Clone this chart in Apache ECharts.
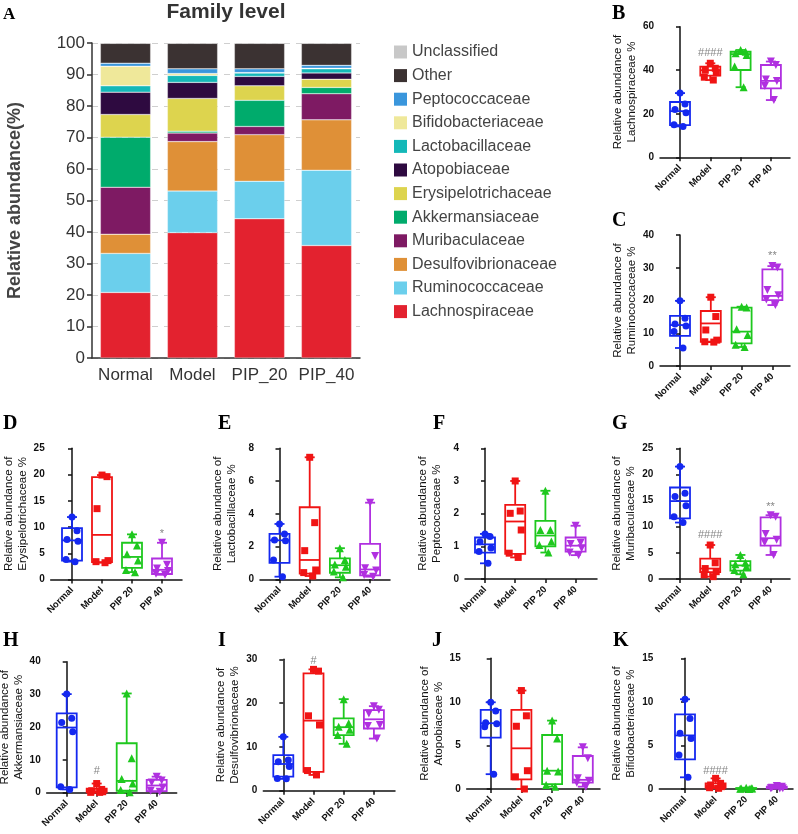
<!DOCTYPE html>
<html><head><meta charset="utf-8">
<script src="https://cdn.jsdelivr.net/npm/echarts@6/dist/echarts.min.js"></script>
<style>html,body{margin:0;padding:0;background:#fff}#c{width:798px;height:834px}</style>
</head><body><div id="c"></div>
<script>
// ---------- Panel A data (stacked %, bottom to top) ----------
const barCategories = ['Normal', 'Model', 'PIP_20', 'PIP_40'];
const lachnospiraceae = [20.8, 39.8, 44.2, 35.7];
const ruminococcaceae = [12.4, 13.2, 11.9, 23.9];
const desulfovibrionaceae = [6.1, 15.7, 14.8, 16.0];
const muribaculaceae = [14.9, 2.7, 2.6, 8.3];
const akkermansiaceae = [15.9, 0.6, 8.3, 2.0];
const erysipelotrichaceae = [7.2, 10.4, 4.6, 2.6];
const atopobiaceae = [7.1, 5.1, 3.0, 2.0];
const lactobacillaceae = [2.0, 2.2, 1.1, 1.3];
const bifidobacteriaceae = [6.2, 0.6, 0.1, 0.2];
const peptococcaceae = [1.0, 1.5, 1.2, 0.9];
const other = [6.3, 8.1, 8.1, 7.0];
const unclassified = [0.1, 0.1, 0.1, 0.1];

// ---------- Box plot data ----------
const groups = ['Normal', 'Model', 'PIP 20', 'PIP 40'];
// boxes: [min, Q1, median, Q3, max]
const lachnoPoints = [[29.5, 24.5, 22, 20.5, 15, 14.2], [43.2, 40.9, 40, 38.9, 36.8, 35.5], [49.3, 48.5, 47.8, 47, 41.7, 32.2], [44, 42.4, 35.8, 35, 32.8, 26.3]];
const lachnoBoxes = [[14.2, 14.8, 21.2, 25.4, 29.5], [35.5, 37.5, 40, 41.7, 43.2], [32.2, 40.1, 47.4, 48.5, 49.3], [26.3, 31.7, 35.1, 42.4, 44]];
const lachnoSig = [[1, 47.8, '####']];

const ruminoPoints = [[19.9, 14.6, 12.8, 12.2, 10.5, 5.5], [21, 15.1, 11, 7.9, 7.4, 7.3], [18.1, 17.9, 11.2, 9.5, 6.5, 5.8], [30.5, 30.1, 23.2, 21.6, 20.3, 18.6]];
const ruminoBoxes = [[5.5, 9.2, 12.5, 15.3, 19.9], [7.3, 7.4, 13, 16.8, 21], [5.8, 6.9, 10.5, 17.8, 18.1], [18.6, 20.1, 21.4, 29.5, 30.5]];
const ruminoSig = [[3, 33.6, '**']];

const erysiPoints = [[11.9, 9.3, 7.6, 7.3, 3.8, 3.4], [19.9, 19.6, 13.5, 3.6, 3.4, 3.2], [8.6, 6.5, 4.8, 3.6, 1.8, 1.4], [7.0, 2.8, 2.1, 1.6, 1.1, 0.9]];
const erysiBoxes = [[3.4, 3.6, 7.45, 9.8, 11.9], [3.2, 3.3, 8.5, 19.5, 19.9], [1.4, 2.2, 4.3, 7.0, 8.6], [0.9, 1.05, 1.85, 4.0, 7.0]];
const erysiSig = [[3, 8.7, '*']];

const lactoPoints = [[3.38, 2.77, 2.4, 2.36, 1.18, 0.16], [7.45, 3.46, 1.75, 0.57, 0.41, 0.2], [1.9, 1.18, 0.9, 0.77, 0.47, 0.12], [4.68, 1.43, 0.67, 0.53, 0.26, 0.16]];
const lactoBoxes = [[0.16, 1.0, 2.38, 2.77, 3.38], [0.2, 0.35, 1.18, 4.4, 7.45], [0.12, 0.4, 0.86, 1.28, 1.9], [0.16, 0.24, 0.6, 2.16, 4.68]];
const lactoSig = [];

const peptoPoints = [[1.38, 1.3, 1.14, 0.95, 0.84, 0.48], [3.0, 2.08, 2.01, 1.5, 0.79, 0.66], [2.7, 1.5, 1.5, 1.15, 1.04, 0.81], [1.63, 1.11, 1.07, 0.94, 0.81, 0.73]];
const peptoBoxes = [[0.48, 0.81, 1.06, 1.27, 1.38], [0.66, 0.77, 1.76, 2.27, 3.0], [0.81, 1.0, 1.33, 1.78, 2.7], [0.73, 0.84, 1.02, 1.27, 1.63]];
const peptoSig = [];

const muriPoints = [[21.5, 16.4, 15.8, 14.0, 11.9, 10.8], [6.5, 3.1, 2.0, 1.4, 0.8, 0.45], [4.6, 3.1, 2.8, 2.4, 1.7, 0.9], [12.2, 11.9, 8.6, 7.5, 7.0, 4.6]];
const muriBoxes = [[10.8, 11.6, 14.9, 17.5, 21.5], [0.45, 1.3, 2.0, 3.9, 6.5], [0.9, 1.6, 2.6, 3.4, 4.6], [4.6, 6.4, 7.8, 11.8, 12.2]];
const muriSig = [[1, 8.4, '####'], [3, 13.8, '**']];

const akkerPoints = [[30.1, 22.7, 21.4, 18.6, 1.8, 1.0], [2.8, 1.0, 0.6, 0.3, 0.1, 0.1], [30.3, 10.5, 4.2, 2.8, 0.8, 0.1], [4.9, 3.7, 3.1, 1.6, 0.6, 0.3]];
const akkerBoxes = [[1.0, 1.6, 19.9, 24.2, 30.1], [0.1, 0.1, 0.45, 1.2, 2.8], [0.1, 0.6, 3.6, 15.1, 30.3], [0.3, 0.5, 2.2, 3.9, 4.9]];
const akkerSig = [[1, 6.6, '#']];

const desulfoPoints = [[12.3, 7.0, 6.6, 5.5, 2.8, 2.7], [27.7, 27.3, 17.1, 15.0, 4.6, 3.6], [20.9, 15.4, 14.6, 13.9, 12.7, 10.7], [19.3, 18.5, 17.6, 15.0, 14.8, 11.9]];
const desulfoBoxes = [[2.7, 3.2, 6.1, 8.1, 12.3], [3.6, 4.3, 16.0, 26.8, 27.7], [10.7, 12.7, 14.5, 16.5, 20.9], [11.9, 14.2, 16.3, 18.4, 19.3]];
const desulfoSig = [[1, 29.7, '#']];

const atopoPoints = [[9.95, 8.95, 7.6, 7.5, 7.15, 1.7], [11.3, 8.4, 7.2, 2.1, 1.4, 0], [7.85, 5.8, 2.1, 2.0, 0.46, 0.27], [4.78, 3.52, 1.22, 0.96, 0.73, 0.27]];
const atopoBoxes = [[1.7, 5.9, 7.55, 9.07, 9.95], [0, 1.1, 4.67, 9.07, 11.3], [0.27, 0.55, 2.1, 6.2, 7.85], [0.27, 0.73, 1.05, 3.79, 4.78]];
const atopoSig = [];

const bifidoPoints = [[10.3, 8.1, 6.4, 5.8, 3.9, 1.34], [1.22, 0.65, 0.46, 0.27, 0.15, 0.08], [0.15, 0.1, 0.07, 0.05, 0.03, 0.01], [0.35, 0.25, 0.15, 0.1, 0.08, 0.05]];
const bifidoBoxes = [[1.34, 3.4, 6.15, 8.57, 10.3], [0.08, 0.12, 0.34, 0.65, 1.22], [0.01, 0.03, 0.06, 0.11, 0.15], [0.05, 0.07, 0.12, 0.27, 0.35]];
const bifidoSig = [[1, 2.1, '####']];

// ---------- Styling / layout ----------
const FONT = 'Liberation Sans, Arial, sans-serif';
const groupColors = ['#1428f0', '#f01414', '#1ec81e', '#b030e0'];
const groupSymbols = ['circle', 'rect', 'triangle', 'triangle'];
const groupSymbolRotate = [0, 0, 0, 180];
const groupSymbolSize = [7, 7, 8, 8];
const jitter = [0, 5, -5, 6, -6, 3];

const familySeries = [
  ['Lachnospiraceae', lachnospiraceae, '#e3222f'],
  ['Ruminococcaceae', ruminococcaceae, '#6bcfec'],
  ['Desulfovibrionaceae', desulfovibrionaceae, '#df9037'],
  ['Muribaculaceae', muribaculaceae, '#7e1a63'],
  ['Akkermansiaceae', akkermansiaceae, '#00ab6c'],
  ['Erysipelotrichaceae', erysipelotrichaceae, '#ddd44e'],
  ['Atopobiaceae', atopobiaceae, '#2e0a40'],
  ['Lactobacillaceae', lactobacillaceae, '#14b8b8'],
  ['Bifidobacteriaceae', bifidobacteriaceae, '#efe89a'],
  ['Peptococcaceae', peptococcaceae, '#3a96dc'],
  ['Other', other, '#3b3232'],
  ['Unclassified', unclassified, '#c8c8c8']
];

const panels = [
  {letter: 'B', name: 'Relative abundance of\nLachnospiraceae %', max: 60, interval: 20, points: lachnoPoints, boxes: lachnoBoxes, sig: lachnoSig,
   L: {left: 660, first: 680, step: 30.3, right: 790, top: 26.7, bottom: 157.3}, lx: 612, ly: 4},
  {letter: 'C', name: 'Relative abundance of\nRuminococcaceae %', max: 40, interval: 10, points: ruminoPoints, boxes: ruminoBoxes, sig: ruminoSig,
   L: {left: 660, first: 680, step: 30.8, right: 790, top: 235, bottom: 366}, lx: 612, ly: 211},
  {letter: 'D', name: 'Relative abundance of\nErysipelotrichaceae %', max: 25, interval: 5, points: erysiPoints, boxes: erysiBoxes, sig: erysiSig,
   L: {left: 50.7, first: 72, step: 30, right: 182, top: 448.3, bottom: 579.5}, lx: 3, ly: 414},
  {letter: 'E', name: 'Relative abundance of\nLactobacillaceae %', max: 8, interval: 2, points: lactoPoints, boxes: lactoBoxes, sig: lactoSig,
   L: {left: 260, first: 279.5, step: 30.2, right: 390, top: 448.3, bottom: 579.3}, lx: 218, ly: 414},
  {letter: 'F', name: 'Relative abundance of\nPeptococcaceae %', max: 4, interval: 1, points: peptoPoints, boxes: peptoBoxes, sig: peptoSig,
   L: {left: 465, first: 485, step: 30.2, right: 597, top: 448.3, bottom: 579}, lx: 433, ly: 414},
  {letter: 'G', name: 'Relative abundance of\nMuribaculaceae %', max: 25, interval: 5, points: muriPoints, boxes: muriBoxes, sig: muriSig,
   L: {left: 659.3, first: 680, step: 30.2, right: 790, top: 448.3, bottom: 579}, lx: 612, ly: 414},
  {letter: 'H', name: 'Relative abundance of\nAkkermansiaceae %', max: 40, interval: 10, points: akkerPoints, boxes: akkerBoxes, sig: akkerSig,
   L: {left: 46.7, first: 66.7, step: 30, right: 176.7, top: 661.7, bottom: 792.7}, lx: 3, ly: 631},
  {letter: 'I', name: 'Relative abundance of\nDesulfovibrionaceae %', max: 30, interval: 10, points: desulfoPoints, boxes: desulfoBoxes, sig: desulfoSig,
   L: {left: 263.3, first: 283.3, step: 30.2, right: 395, top: 659.3, bottom: 790.7}, lx: 218, ly: 631},
  {letter: 'J', name: 'Relative abundance of\nAtopobiaceae %', max: 15, interval: 5, points: atopoPoints, boxes: atopoBoxes, sig: atopoSig,
   L: {left: 466.7, first: 490.7, step: 30.7, right: 600, top: 658.3, bottom: 789}, lx: 432, ly: 631},
  {letter: 'K', name: 'Relative abundance of\nBifidobacteriaceae %', max: 15, interval: 5, points: bifidoPoints, boxes: bifidoBoxes, sig: bifidoSig,
   L: {left: 659.3, first: 685, step: 30.6, right: 793, top: 658.3, bottom: 789}, lx: 613, ly: 631}
];

const grids = [{left: 92, top: 43, width: 268, height: 315, containLabel: false, outerBoundsMode: 'none'}];
const xAxes = [{
  type: 'category', gridIndex: 0, data: barCategories,
  axisLine: {lineStyle: {color: '#333', width: 1.5}},
  axisTick: {alignWithLabel: true, length: 5, lineStyle: {color: '#333', width: 1.5}},
  axisLabel: {fontSize: 17, color: '#333', margin: 9, fontFamily: FONT, interval: 0}
}];
const yAxes = [{
  type: 'value', gridIndex: 0, min: 0, max: 100, interval: 10,
  name: 'Relative abundance(%)', nameLocation: 'middle', nameGap: 68,
  nameTextStyle: {fontSize: 18, fontWeight: 'bold', color: '#444', fontFamily: FONT},
  axisLine: {show: true, lineStyle: {color: '#333', width: 1.5}},
  axisTick: {show: true, length: 5, lineStyle: {color: '#333', width: 1.5}},
  axisLabel: {fontSize: 17, color: '#333', margin: 7, fontFamily: FONT},
  splitLine: {show: true, lineStyle: {color: '#cfcfcf', type: [6, 6], width: 1}}
}];
const series = familySeries.map(([name, vals, color]) => ({
  type: 'bar', name: name, stack: 'total', xAxisIndex: 0, yAxisIndex: 0,
  barWidth: '75%', data: vals,
  itemStyle: {color: color, borderColor: 'rgba(255,255,255,0.6)', borderWidth: 0.5}
}));

function renderBox(params, api) {
  const gi = api.value(0);
  const color = groupColors[gi];
  const p = [1, 2, 3, 4, 5].map(d => api.coord([gi, api.value(d)]));
  const cx = p[0][0];
  const hw = 10, cw = 5;
  const st = {stroke: color, lineWidth: 1.8, fill: null};
  return {type: 'group', children: [
    {type: 'rect', shape: {x: cx - hw, y: p[3][1], width: 2 * hw, height: p[1][1] - p[3][1]}, style: {stroke: color, lineWidth: 1.8, fill: 'rgba(255,255,255,0)'}},
    {type: 'line', shape: {x1: cx - hw, y1: p[2][1], x2: cx + hw, y2: p[2][1]}, style: st},
    {type: 'line', shape: {x1: cx, y1: p[3][1], x2: cx, y2: p[4][1]}, style: st},
    {type: 'line', shape: {x1: cx, y1: p[1][1], x2: cx, y2: p[0][1]}, style: st},
    {type: 'line', shape: {x1: cx - cw, y1: p[4][1], x2: cx + cw, y2: p[4][1]}, style: st},
    {type: 'line', shape: {x1: cx - cw, y1: p[0][1], x2: cx + cw, y2: p[0][1]}, style: st}
  ]};
}

const graphics = [
  {type: 'text', left: 3, top: 6, style: {text: 'A', font: 'bold 17px Liberation Serif, Times New Roman, serif', fill: '#000'}},
  {type: 'text', x: 226, y: 12, style: {text: 'Family level', font: 'bold 21px ' + FONT, fill: '#333', align: 'center', verticalAlign: 'middle'}}
];

panels.forEach((pn, k) => {
  const g = k + 1;
  const L = pn.L;
  grids.push({left: L.left, top: L.top, width: L.right - L.left, height: L.bottom - L.top, containLabel: false, outerBoundsMode: 'none'});
  xAxes.push({
    type: 'value', gridIndex: g,
    min: -(L.first - L.left) / L.step, max: (L.right - L.first) / L.step,
    axisLine: {show: true, onZero: false, lineStyle: {color: '#111', width: 1.5}},
    axisTick: {show: true, customValues: [0, 1, 2, 3], length: 4, lineStyle: {color: '#111', width: 1.5}},
    axisLabel: {show: true, customValues: [0, 1, 2, 3], formatter: v => groups[Math.round(v)], rotate: 45,
      fontSize: 9.5, fontWeight: 'bold', color: '#111', margin: 9, fontFamily: FONT},
    splitLine: {show: false}
  });
  yAxes.push({
    type: 'value', gridIndex: g, min: 0, max: pn.max, interval: pn.interval,
    name: pn.name, nameLocation: 'middle', nameGap: 21,
    nameTextStyle: {fontSize: 11.5, color: '#111', lineHeight: 14, fontFamily: FONT},
    axisLine: {show: true, lineStyle: {color: '#111', width: 1.5}},
    axisTick: {show: true, length: 4, lineStyle: {color: '#111', width: 1.5}},
    axisLabel: {fontSize: 10, fontWeight: 'bold', color: '#111', margin: 6, fontFamily: FONT},
    splitLine: {show: false}
  });
  series.push({
    type: 'custom', xAxisIndex: g, yAxisIndex: g, renderItem: renderBox,
    encode: {x: 0, y: [1, 2, 3, 4, 5]},
    data: pn.boxes.map((b, i) => [i].concat(b)), z: 2, silent: true
  });
  pn.points.forEach((vals, i) => {
    series.push({
      type: 'scatter', xAxisIndex: g, yAxisIndex: g, z: 3, silent: true,
      symbol: groupSymbols[i], symbolRotate: groupSymbolRotate[i], symbolSize: groupSymbolSize[i],
      itemStyle: {color: groupColors[i], opacity: 1},
      data: vals.map((v, j) => ({value: [i, v], symbolOffset: [jitter[j], 0]}))
    });
  });
  if (pn.sig.length) {
    series.push({
      type: 'scatter', xAxisIndex: g, yAxisIndex: g, z: 4, silent: true, symbolSize: 1,
      itemStyle: {color: 'rgba(0,0,0,0)'},
      label: {show: true, position: 'inside', formatter: '{b}', fontSize: 11, color: '#666', fontFamily: FONT},
      data: pn.sig.map(s => ({name: s[2], value: [s[0], s[1]]}))
    });
  }
  graphics.push({type: 'text', left: pn.lx, top: pn.ly, style: {text: pn.letter, font: 'bold 20px Liberation Serif, Times New Roman, serif', fill: '#000'}});
});

const chart = echarts.init(document.getElementById('c'), null, {renderer: 'canvas', width: 798, height: 834});
chart.setOption({
  animation: false,
  backgroundColor: '#fff',
  grid: grids, xAxis: xAxes, yAxis: yAxes, series: series,
  legend: {
    orient: 'vertical', left: 389, top: 39, itemWidth: 13, itemHeight: 13, itemGap: 7.6, icon: 'rect',
    data: familySeries.map(f => f[0]).reverse(),
    textStyle: {fontSize: 16, color: '#444', fontFamily: FONT}, itemStyle: {borderWidth: 0}
  },
  graphic: graphics
});
</script></body></html>
